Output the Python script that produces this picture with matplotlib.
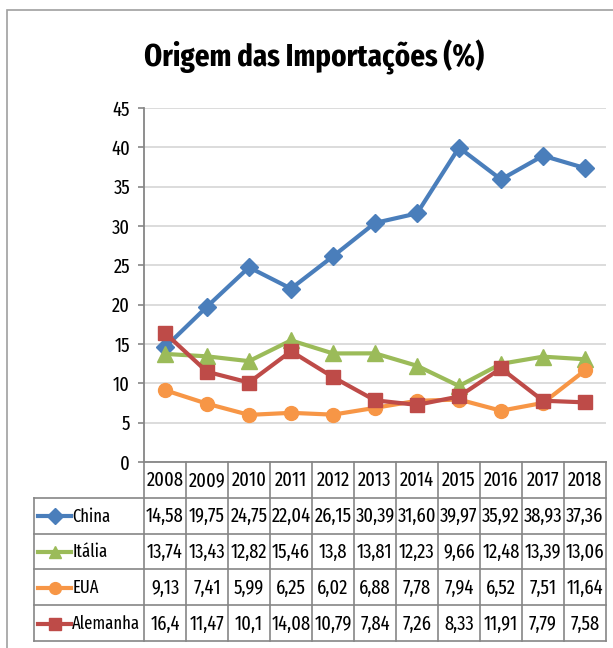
import matplotlib
matplotlib.use("Agg")
import matplotlib.pyplot as plt
from matplotlib import font_manager
from matplotlib.patches import Rectangle

# fonte estreita parecida com a do Excel
nomes = {f.name for f in font_manager.fontManager.ttflist}
candidatas = ["Fira Sans Extra Condensed", "Roboto Condensed", "Barlow Condensed", "Carlito", "Open Sans"]
fonte = next((f for f in candidatas if f in nomes), "DejaVu Sans")
plt.rcParams['font.family'] = [fonte, 'DejaVu Sans']

# dados
anos = ["2008", "2009", "2010", "2011", "2012", "2013", "2014", "2015", "2016", "2017", "2018"]
china = ["14,58", "19,75", "24,75", "22,04", "26,15", "30,39", "31,60", "39,97", "35,92", "38,93", "37,36"]
italia = ["13,74", "13,43", "12,82", "15,46", "13,8", "13,81", "12,23", "9,66", "12,48", "13,39", "13,06"]
eua = ["9,13", "7,41", "5,99", "6,25", "6,02", "6,88", "7,78", "7,94", "6,52", "7,51", "11,64"]
alemanha = ["16,4", "11,47", "10,1", "14,08", "10,79", "7,84", "7,26", "8,33", "11,91", "7,79", "7,58"]
y_ticks = [0, 5, 10, 15, 20, 25, 30, 35, 40, 45]

series = [
    ("China", china, "#4A7EBB", "D", 9),
    ("Itália", italia, "#9BBB59", "^", 11),
    ("EUA", eua, "#F79646", "o", 10),
    ("Alemanha", alemanha, "#BE4B48", "s", 10),
]

W, H = 613, 648
fig = plt.figure(figsize=(W / 100, H / 100), dpi=100)

cinza = "#868686"
fs = 14.5
x_esq, x_dir, y_top, y_bot = 144, 606, 108, 462
col_w = (x_dir - x_esq) / len(anos)

ax = fig.add_axes([x_esq / W, 1 - y_bot / H, (x_dir - x_esq) / W, (y_bot - y_top) / H])
x = list(range(len(anos)))
for nome, vals, cor, mk, ms in series:
    v = [float(s.replace(",", ".")) for s in vals]
    ax.plot(x, v, color=cor, lw=3.0, marker=mk, ms=ms, zorder=3)

ax.set_xlim(-0.5, len(anos) - 0.5)
ax.set_ylim(0, 45)
ax.set_yticks(y_ticks)
ax.set_xticks([])
ax.grid(axis="y", color="#d9d9d9", lw=1.3)
ax.set_axisbelow(True)
for s in ["top", "right"]:
    ax.spines[s].set_visible(False)
for s in ["left", "bottom"]:
    ax.spines[s].set_color(cinza)
    ax.spines[s].set_linewidth(1.3)
ax.tick_params(axis="y", direction="out", length=4, width=1.2, color=cinza,
               labelsize=fs, pad=6)

# tabela de dados por baixo do gráfico
t_left, t_bot = 34, 641
tx0 = -0.5 - (x_esq - t_left) / col_w
tab = fig.add_axes([t_left / W, 1 - t_bot / H, (x_dir - t_left) / W, (t_bot - y_bot) / H])
tab.set_xlim(tx0, len(anos) - 0.5)
tab.set_ylim(len(series) + 1, 0)
tab.axis("off")

n = len(anos)
nr = len(series) + 1
for k in range(n + 1):
    tab.plot([k - 0.5, k - 0.5], [0, nr], color=cinza, lw=1.2, clip_on=False)
tab.plot([tx0, tx0], [1, nr], color=cinza, lw=1.2, clip_on=False)
for r in range(1, nr + 1):
    tab.plot([tx0, n - 0.5], [r, r], color=cinza, lw=1.2, clip_on=False)

for i, a in enumerate(anos):
    tab.text(i, 0.52, a, ha="center", va="center", fontsize=fs)

for r, (nome, vals, cor, mk, ms) in enumerate(series, start=1):
    yc = r + 0.52
    tab.plot([tx0 + 0.1, tx0 + 0.88], [yc, yc], color=cor, lw=3.0, clip_on=False)
    tab.plot([tx0 + 0.49], [yc], color=cor, marker=mk, ms=ms * 0.85, clip_on=False)
    tab.text(tx0 + 0.91, yc, nome, ha="left", va="center", fontsize=13)
    for i, s in enumerate(vals):
        tab.text(i, yc, s, ha="center", va="center", fontsize=fs)

fig.text(0.512, 0.912, "Origem das Importações (%)", ha="center", va="center",
         fontsize=22.6, fontweight="bold")

# moldura do gráfico
fig.patches.append(Rectangle((7 / W, -0.1), 1.0, 1.1 - 10 / H, transform=fig.transFigure,
                             fill=False, edgecolor="#a0a0a0", lw=1.2))

fig.savefig("out.png", dpi=100)
